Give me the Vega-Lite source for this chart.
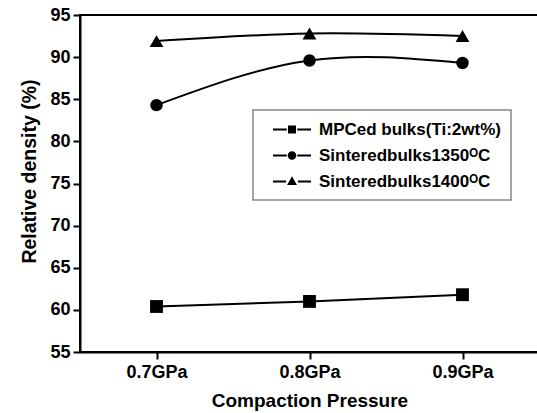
{
  "$schema": "https://vega.github.io/schema/vega-lite/v6.json",
  "autosize": "none",
  "width": 459,
  "height": 337,
  "padding": {"left": 80, "top": 15, "right": 0, "bottom": 61},
  "background": "white",
  "config": {
    "view": {"stroke": "black", "strokeWidth": 2},
    "font": "Liberation Sans",
    "legend": {"strokeColor": "#888888", "strokeWidth": 1.5, "fillColor": "white"},
    "axis": {
      "domainColor": "black", "domainWidth": 2, "tickColor": "black", "tickWidth": 2,
      "tickSize": 7, "grid": false, "labelColor": "black", "titleColor": "black",
      "labelFont": "Liberation Sans", "titleFont": "Liberation Sans",
      "labelFontWeight": "bold", "labelFontSize": 18, "titleFontSize": 19, "titleFontWeight": "bold"
    }
  },
  "data": {
    "values": [
      {"pressure": "0.7GPa", "series": "MPCed bulks(Ti:2wt%)", "density": 60.4},
      {"pressure": "0.8GPa", "series": "MPCed bulks(Ti:2wt%)", "density": 61.0},
      {"pressure": "0.9GPa", "series": "MPCed bulks(Ti:2wt%)", "density": 61.8},
      {"pressure": "0.7GPa", "series": "Sinteredbulks1350ᴼC", "density": 84.3},
      {"pressure": "0.8GPa", "series": "Sinteredbulks1350ᴼC", "density": 89.6},
      {"pressure": "0.9GPa", "series": "Sinteredbulks1350ᴼC", "density": 89.3},
      {"pressure": "0.7GPa", "series": "Sinteredbulks1400ᴼC", "density": 91.9},
      {"pressure": "0.8GPa", "series": "Sinteredbulks1400ᴼC", "density": 92.8},
      {"pressure": "0.9GPa", "series": "Sinteredbulks1400ᴼC", "density": 92.5}
    ]
  },
  "encoding": {
    "x": {
      "field": "pressure", "type": "ordinal",
      "scale": {"type": "point", "padding": 0.5},
      "sort": ["0.7GPa", "0.8GPa", "0.9GPa"],
      "axis": {"title": "Compaction Pressure", "labelAngle": 0, "labelPadding": 4, "titlePadding": 10}
    },
    "y": {
      "field": "density", "type": "quantitative",
      "scale": {"domain": [55, 95], "nice": false, "zero": false},
      "axis": {"title": "Relative density (%)", "titleFontSize": 19.5, "titleY": 156, "values": [55, 60, 65, 70, 75, 80, 85, 90, 95], "labelPadding": 3, "titlePadding": 10}
    }
  },
  "layer": [
    {
      "mark": {"type": "line", "color": "black", "strokeWidth": 2, "interpolate": "natural"},
      "encoding": {"detail": {"field": "series"}}
    },
    {
      "transform": [{"filter": "datum.series === 'MPCed bulks(Ti:2wt%)'"}],
      "mark": {"type": "point", "shape": "square", "filled": true, "color": "black", "opacity": 1, "size": 165}
    },
    {
      "transform": [{"filter": "datum.series === 'Sinteredbulks1350ᴼC'"}],
      "mark": {"type": "point", "shape": "circle", "filled": true, "color": "black", "opacity": 1, "size": 155}
    },
    {
      "transform": [{"filter": "datum.series === 'Sinteredbulks1400ᴼC'"}],
      "mark": {"type": "point", "shape": "triangle-up", "filled": true, "color": "black", "opacity": 1, "size": 190}
    },
    {
      "mark": {"type": "point", "filled": true, "color": "black", "opacity": 0, "size": 1},
      "encoding": {
        "shape": {
          "field": "series", "type": "nominal",
          "scale": {
            "domain": ["MPCed bulks(Ti:2wt%)", "Sinteredbulks1350ᴼC", "Sinteredbulks1400ᴼC"],
            "range": [
              "M-2,-0.1H-0.55V0.1H-2ZM-0.42,-0.42H0.42V0.42H-0.42ZM0.55,-0.1H2V0.1H0.55Z",
              "M-2,-0.1H-0.55V0.1H-2ZM0.45,0A0.45,0.45 0 1,1 -0.45,0A0.45,0.45 0 1,1 0.45,0ZM0.55,-0.1H2V0.1H0.55Z",
              "M-2,-0.1H-0.62V0.1H-2ZM0,-0.55L0.52,0.38L-0.52,0.38ZM0.62,-0.1H2V0.1H0.62Z"
            ]
          },
          "legend": {
            "title": null, "orient": "none", "legendX": 173, "legendY": 95,
            "padding": 10,
            "symbolSize": 361, "symbolOffset": 19.5, "symbolFillColor": "black", "symbolStrokeColor": "black", "symbolStrokeWidth": 0, "symbolOpacity": 1,
            "labelFontSize": 17, "labelFontWeight": "bold", "labelColor": "black", "labelFont": "Liberation Sans",
            "labelOffset": 17.5, "rowPadding": 8, "labelLimit": 400,
            "labelExpr": "datum.label + '\u00a0'",
            "encode": {"symbols": {"opacity": {"value": 1}, "fill": {"value": "black"}}}
          }
        }
      }
    }
  ]
}
